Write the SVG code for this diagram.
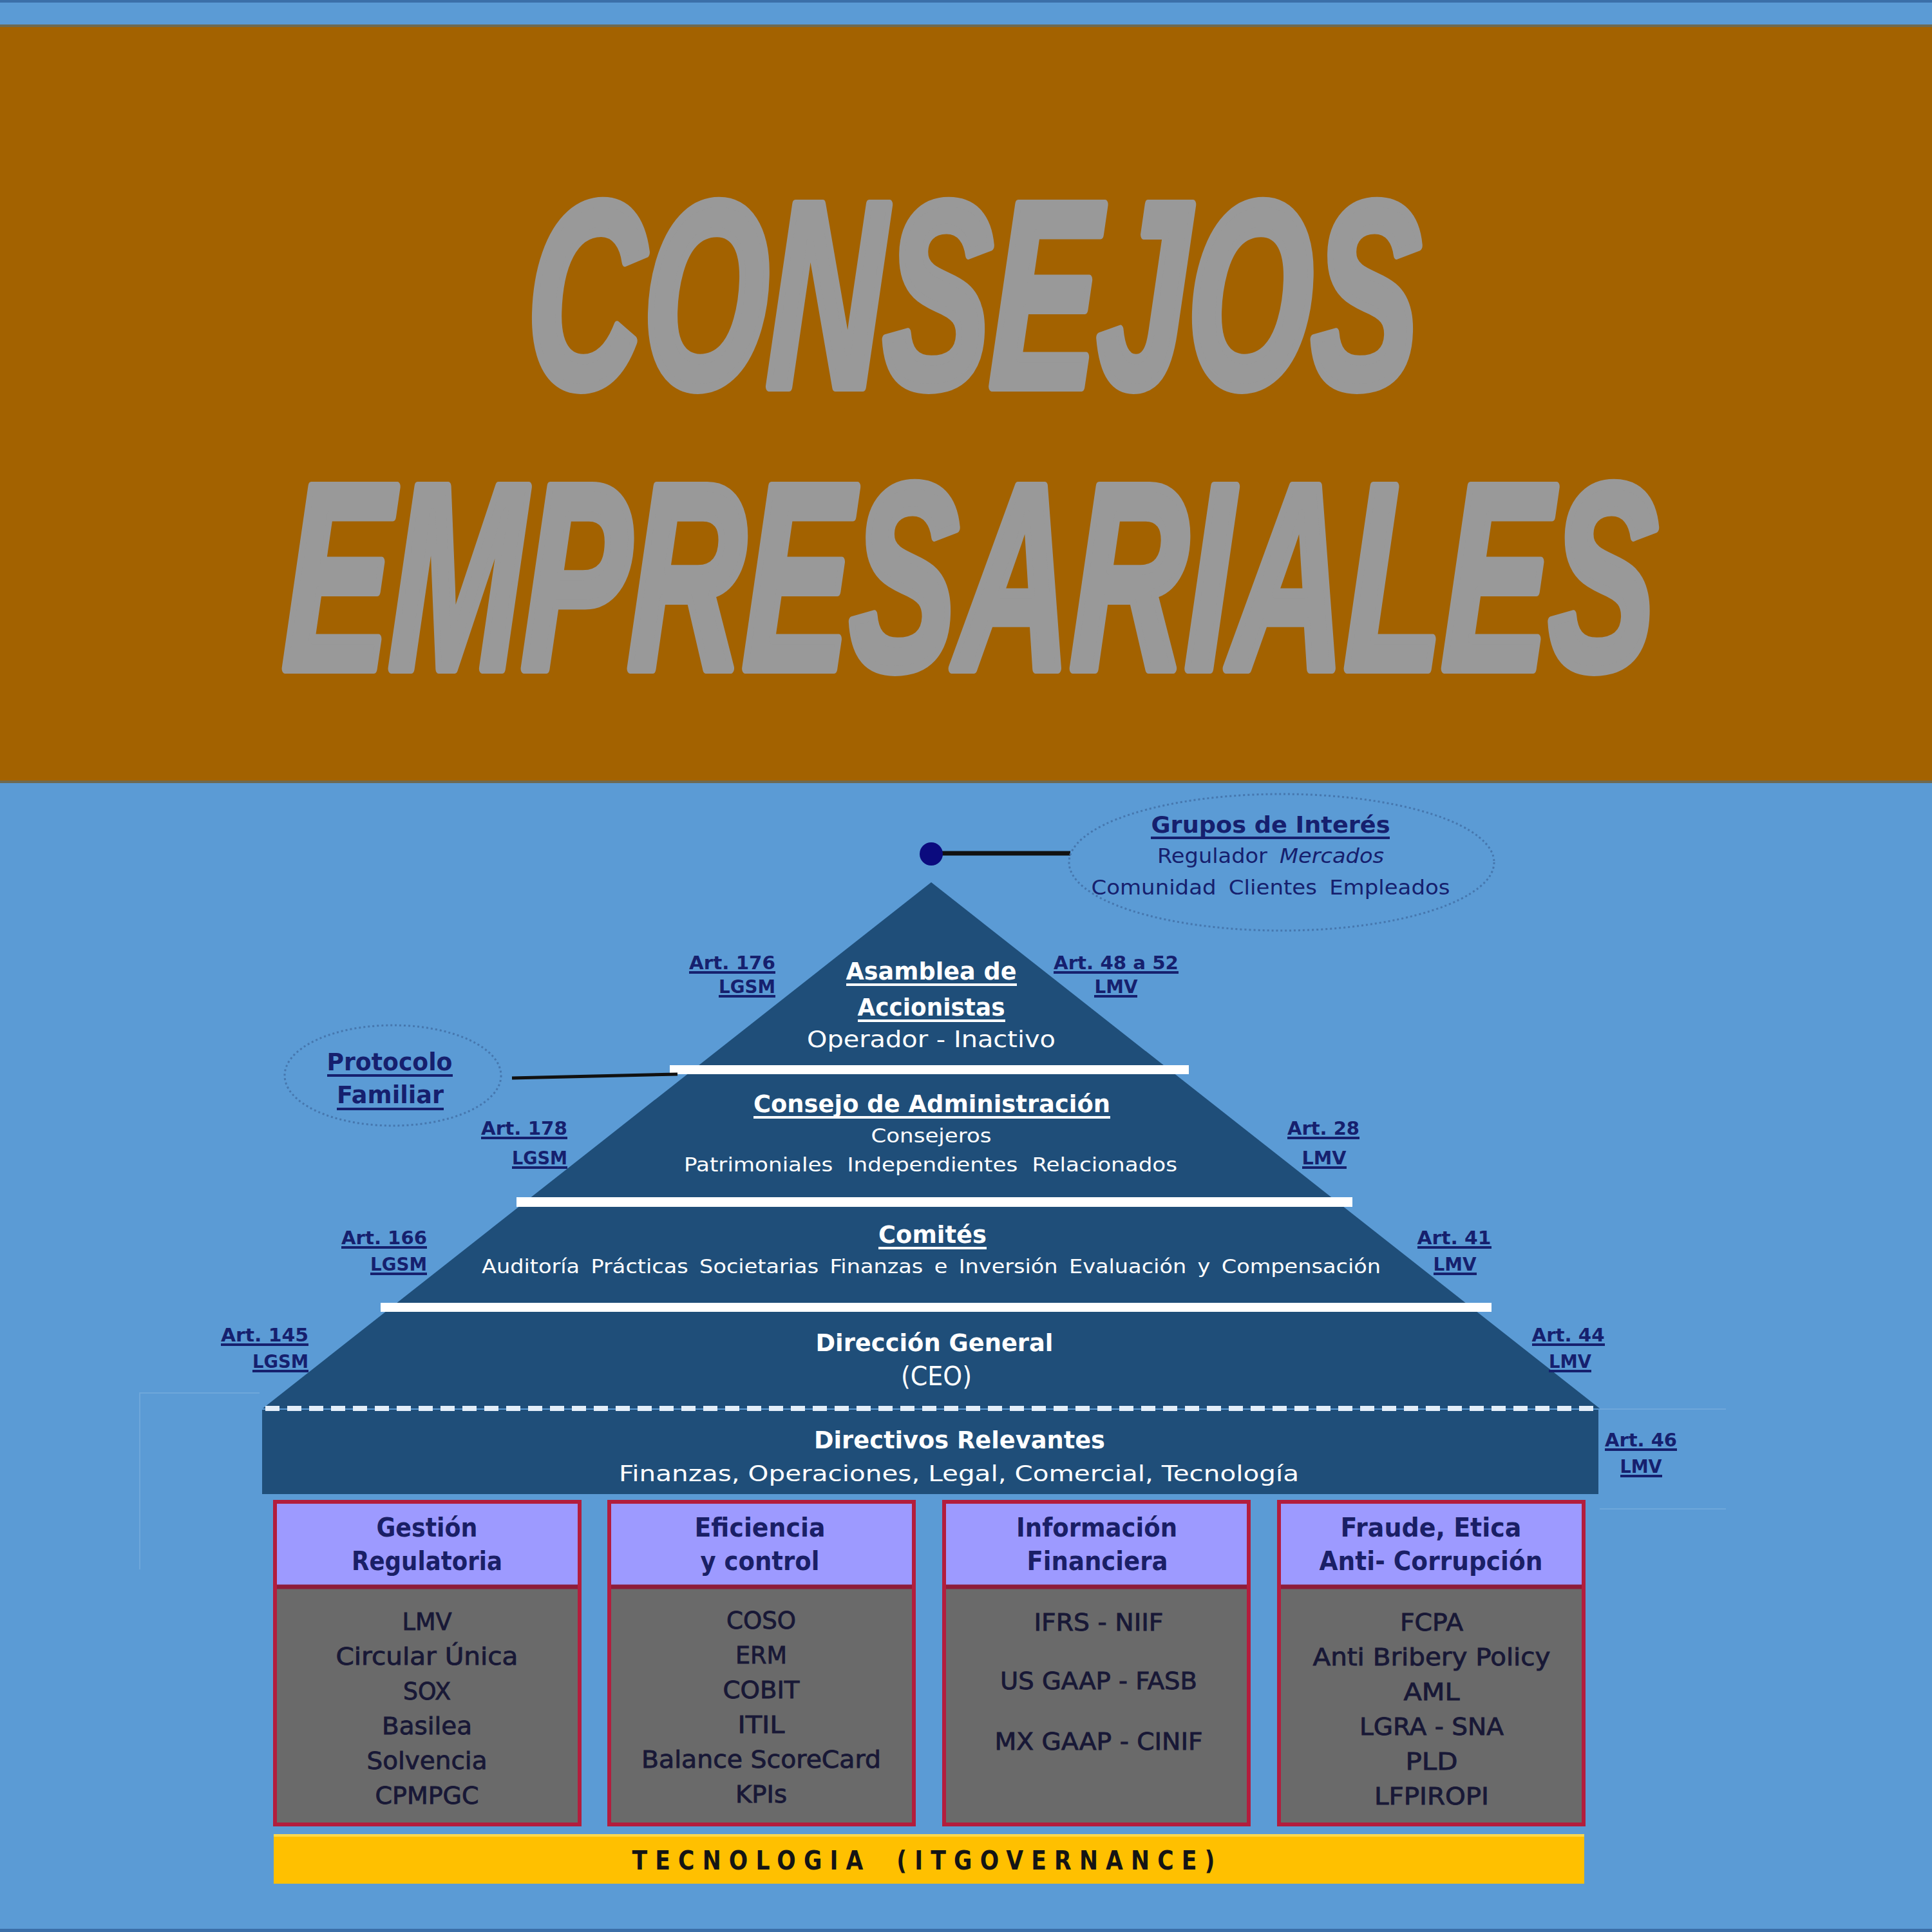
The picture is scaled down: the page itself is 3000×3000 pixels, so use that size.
<svg xmlns="http://www.w3.org/2000/svg" width="3000" height="3000" viewBox="0 0 3000 3000">
<defs>
<style>
.nv{fill:#16206e;font-family:"DejaVu Sans","Liberation Sans",sans-serif;font-weight:bold}
.art{fill:#16206e;font-family:"DejaVu Sans","Liberation Sans",sans-serif;font-weight:bold;font-size:28px}
.wb{fill:#ffffff;font-family:"DejaVu Sans","Liberation Sans",sans-serif;font-weight:bold;font-size:38px}
.wn{fill:#ffffff;font-family:"DejaVu Sans","Liberation Sans",sans-serif;font-weight:normal}
.hd{fill:#1a1f66;font-family:"DejaVu Sans","Liberation Sans",sans-serif;font-weight:bold;font-size:40px}
.bd{fill:#181836;stroke:#181836;stroke-width:0.9;font-family:"DejaVu Sans","Liberation Sans",sans-serif;font-weight:normal;font-size:38px}
.ul{stroke:#16206e;stroke-width:4}
.ulw{stroke:#ffffff;stroke-width:4}
.dotted{fill:none;stroke:#4677ae;stroke-width:3;stroke-dasharray:3 4}
.bar{fill:#ffffff}
.hdr{fill:#9d9aff}
.body{fill:#6a6a6a}
.frame{fill:none;stroke:#b31d3d;stroke-width:6}
.div{stroke:#8e1c3a;stroke-width:7}
</style>
</defs>

<!-- background -->
<rect x="0" y="0" width="3000" height="3000" fill="#5b9bd5"/>
<rect x="0" y="0" width="3000" height="4" fill="#3b6fa8"/>
<rect x="0" y="2995" width="3000" height="5" fill="#3b6fa8"/>
<rect x="0" y="40" width="3000" height="1175" fill="#a36200"/>
<rect x="0" y="38" width="3000" height="4" fill="#6e6a52"/>
<rect x="0" y="1212" width="3000" height="4" fill="#6e6a52"/>

<!-- faint artifacts -->
<g stroke="#ffffff" stroke-opacity="0.12" stroke-width="2" fill="none">
<polyline points="217,2437 217,2163 403,2163"/>
<line x1="2484" y1="2188" x2="2680" y2="2188"/>
<line x1="2484" y1="2343" x2="2680" y2="2343"/>
</g>

<!-- title -->
<g id="title" font-family="'Liberation Sans',Arial,sans-serif" font-weight="bold" font-style="italic" fill="#999999" stroke="#999999" stroke-width="10" stroke-linejoin="round">
<text transform="translate(1508,600) scale(1,1.577) skewX(-2.5)" x="0" y="0" text-anchor="middle" font-size="260" textLength="1385" lengthAdjust="spacingAndGlyphs">CONSEJOS</text>
<text transform="translate(1503,1038) scale(1,1.577) skewX(-2.5)" x="0" y="0" text-anchor="middle" font-size="260" textLength="2130" lengthAdjust="spacingAndGlyphs">EMPRESARIALES</text>
</g>

<!-- pyramid body -->
<g id="pyramid">
<polygon points="1446,1370 2484,2187 408,2187" fill="#1f4e79"/>
<rect x="407" y="2189" width="2075" height="131" fill="#1f4e79"/>
<rect class="bar" x="1040" y="1654" width="806" height="14"/>
<rect class="bar" x="802" y="1859" width="1298" height="15"/>
<rect class="bar" x="591" y="2023" width="1725" height="14"/>
<line x1="412" y1="2187" x2="2480" y2="2187" stroke="#e3eef9" stroke-width="8" stroke-dasharray="22 12"/>
</g>

<g id="asamblea">
<text class="wb" x="1446" y="1521" text-anchor="middle" textLength="265" lengthAdjust="spacingAndGlyphs">Asamblea de</text>
<line class="ulw" x1="1314" y1="1529" x2="1579" y2="1529"/>
<text class="wb" x="1446" y="1577" text-anchor="middle" textLength="229" lengthAdjust="spacingAndGlyphs">Accionistas</text>
<line class="ulw" x1="1332" y1="1585" x2="1561" y2="1585"/>
<text class="wn" x="1446" y="1626" font-size="36" text-anchor="middle" textLength="386" lengthAdjust="spacingAndGlyphs">Operador - Inactivo</text>
</g>

<g id="consejo">
<text class="wb" x="1447" y="1727" text-anchor="middle" textLength="554" lengthAdjust="spacingAndGlyphs">Consejo de Administración</text>
<line class="ulw" x1="1170" y1="1735" x2="1724" y2="1735"/>
<text class="wn" x="1446" y="1774" font-size="30" text-anchor="middle" textLength="187" lengthAdjust="spacingAndGlyphs">Consejeros</text>
<text class="wn" x="1445" y="1819" font-size="30" text-anchor="middle" textLength="766" lengthAdjust="spacingAndGlyphs" word-spacing="10">Patrimoniales Independientes Relacionados</text>
</g>

<g id="comites">
<text class="wb" x="1448" y="1930" text-anchor="middle" textLength="168" lengthAdjust="spacingAndGlyphs">Comités</text>
<line class="ulw" x1="1364" y1="1938" x2="1532" y2="1938"/>
<text class="wn" x="1446" y="1977" font-size="30" text-anchor="middle" textLength="1396" lengthAdjust="spacingAndGlyphs" word-spacing="6">Auditoría  Prácticas Societarias  Finanzas e Inversión  Evaluación y Compensación</text>
</g>

<g id="direccion">
<text class="wb" x="1451" y="2098" text-anchor="middle" textLength="369" lengthAdjust="spacingAndGlyphs">Dirección General</text>
<text class="wn" x="1454" y="2151" font-size="40" text-anchor="middle" textLength="110" lengthAdjust="spacingAndGlyphs">(CEO)</text>
</g>

<g id="directivos">
<text class="wb" x="1490" y="2249" text-anchor="middle" textLength="452" lengthAdjust="spacingAndGlyphs">Directivos Relevantes</text>
<text class="wn" x="1489" y="2300" font-size="34" text-anchor="middle" textLength="1056" lengthAdjust="spacingAndGlyphs">Finanzas, Operaciones, Legal, Comercial, Tecnología</text>
</g>

<!-- connectors -->
<g id="connectors">
<line x1="1462" y1="1325" x2="1662" y2="1325" stroke="#111111" stroke-width="7"/>
<circle cx="1446" cy="1326" r="18" fill="#0b0b7e"/>
<line x1="795" y1="1674" x2="1052" y2="1668" stroke="#111111" stroke-width="5"/>
</g>

<g id="grupos">
<ellipse class="dotted" cx="1990" cy="1339" rx="330" ry="106"/>
<text class="nv" x="1973" y="1293" font-size="36" text-anchor="middle" textLength="371" lengthAdjust="spacingAndGlyphs">Grupos de Interés</text>
<line class="ul" x1="1787" y1="1301" x2="2158" y2="1301"/>
<text x="1973" y="1340" font-size="32" fill="#16206e" font-family="'DejaVu Sans',sans-serif" text-anchor="middle" textLength="352" lengthAdjust="spacingAndGlyphs" word-spacing="8">Regulador <tspan font-style="italic">Mercados</tspan></text>
<text x="1973" y="1389" font-size="32" fill="#16206e" font-family="'DejaVu Sans',sans-serif" text-anchor="middle" textLength="557" lengthAdjust="spacingAndGlyphs" word-spacing="8">Comunidad Clientes Empleados</text>
</g>

<g id="protocolo">
<ellipse class="dotted" cx="610" cy="1670" rx="168" ry="78"/>
<text class="nv" x="605" y="1662" font-size="37" text-anchor="middle" textLength="195" lengthAdjust="spacingAndGlyphs">Protocolo</text>
<line class="ul" x1="508" y1="1670" x2="703" y2="1670"/>
<text class="nv" x="606" y="1713" font-size="37" text-anchor="middle" textLength="166" lengthAdjust="spacingAndGlyphs">Familiar</text>
<line class="ul" x1="523" y1="1722" x2="689" y2="1722"/>
</g>

<!-- article labels -->
<g id="art176">
<text class="art" x="1204" y="1505" text-anchor="end" textLength="134" lengthAdjust="spacingAndGlyphs">Art. 176</text>
<line class="ul" x1="1070" y1="1510" x2="1204" y2="1510" stroke-width="3"/>
<text class="art" x="1204" y="1542" text-anchor="end" textLength="88" lengthAdjust="spacingAndGlyphs">LGSM</text>
<line class="ul" x1="1116" y1="1547" x2="1204" y2="1547" stroke-width="3"/>
</g>
<g id="art4852">
<text class="art" x="1733" y="1505" text-anchor="middle" textLength="194" lengthAdjust="spacingAndGlyphs">Art. 48 a 52</text>
<line class="ul" x1="1636" y1="1510" x2="1830" y2="1510" stroke-width="3"/>
<text class="art" x="1733" y="1542" text-anchor="middle" textLength="67" lengthAdjust="spacingAndGlyphs">LMV</text>
<line class="ul" x1="1699" y1="1547" x2="1766" y2="1547" stroke-width="3"/>
</g>
<g id="art178">
<text class="art" x="881" y="1762" text-anchor="end" textLength="134" lengthAdjust="spacingAndGlyphs">Art. 178</text>
<line class="ul" x1="747" y1="1767" x2="881" y2="1767" stroke-width="3"/>
<text class="art" x="881" y="1808" text-anchor="end" textLength="86" lengthAdjust="spacingAndGlyphs">LGSM</text>
<line class="ul" x1="795" y1="1813" x2="881" y2="1813" stroke-width="3"/>
</g>
<g id="art28">
<text class="art" x="2055" y="1762" text-anchor="middle" textLength="112" lengthAdjust="spacingAndGlyphs">Art. 28</text>
<line class="ul" x1="1999" y1="1767" x2="2111" y2="1767" stroke-width="3"/>
<text class="art" x="2056" y="1808" text-anchor="middle" textLength="69" lengthAdjust="spacingAndGlyphs">LMV</text>
<line class="ul" x1="2022" y1="1813" x2="2091" y2="1813" stroke-width="3"/>
</g>
<g id="art166">
<text class="art" x="663" y="1932" text-anchor="end" textLength="133" lengthAdjust="spacingAndGlyphs">Art. 166</text>
<line class="ul" x1="530" y1="1937" x2="663" y2="1937" stroke-width="3"/>
<text class="art" x="663" y="1973" text-anchor="end" textLength="88" lengthAdjust="spacingAndGlyphs">LGSM</text>
<line class="ul" x1="575" y1="1978" x2="663" y2="1978" stroke-width="3"/>
</g>
<g id="art41">
<text class="art" x="2258" y="1932" text-anchor="middle" textLength="115" lengthAdjust="spacingAndGlyphs">Art. 41</text>
<line class="ul" x1="2201" y1="1937" x2="2316" y2="1937" stroke-width="3"/>
<text class="art" x="2259" y="1973" text-anchor="middle" textLength="67" lengthAdjust="spacingAndGlyphs">LMV</text>
<line class="ul" x1="2226" y1="1978" x2="2293" y2="1978" stroke-width="3"/>
</g>
<g id="art145">
<text class="art" x="479" y="2083" text-anchor="end" textLength="136" lengthAdjust="spacingAndGlyphs">Art. 145</text>
<line class="ul" x1="343" y1="2088" x2="479" y2="2088" stroke-width="3"/>
<text class="art" x="479" y="2124" text-anchor="end" textLength="87" lengthAdjust="spacingAndGlyphs">LGSM</text>
<line class="ul" x1="392" y1="2129" x2="479" y2="2129" stroke-width="3"/>
</g>
<g id="art44">
<text class="art" x="2435" y="2083" text-anchor="middle" textLength="113" lengthAdjust="spacingAndGlyphs">Art. 44</text>
<line class="ul" x1="2379" y1="2088" x2="2492" y2="2088" stroke-width="3"/>
<text class="art" x="2438" y="2124" text-anchor="middle" textLength="66" lengthAdjust="spacingAndGlyphs">LMV</text>
<line class="ul" x1="2405" y1="2129" x2="2471" y2="2129" stroke-width="3"/>
</g>
<g id="art46">
<text class="art" x="2548" y="2246" text-anchor="middle" textLength="112" lengthAdjust="spacingAndGlyphs">Art. 46</text>
<line class="ul" x1="2492" y1="2251" x2="2604" y2="2251" stroke-width="3"/>
<text class="art" x="2548" y="2287" text-anchor="middle" textLength="65" lengthAdjust="spacingAndGlyphs">LMV</text>
<line class="ul" x1="2516" y1="2292" x2="2581" y2="2292" stroke-width="3"/>
</g>

<!-- boxes -->
<g id="box-gestion">
<rect class="hdr" x="427" y="2332" width="473" height="132"/>
<rect class="body" x="427" y="2464" width="473" height="369"/>
<line class="div" x1="427" y1="2464" x2="900" y2="2464"/>
<rect class="frame" x="427" y="2332" width="473" height="501"/>
<text class="hd" x="663" y="2386" text-anchor="middle" textLength="157" lengthAdjust="spacingAndGlyphs">Gestión</text>
<text class="hd" x="663" y="2438" text-anchor="middle" textLength="234" lengthAdjust="spacingAndGlyphs">Regulatoria</text>
<text class="bd" x="663" y="2531" text-anchor="middle" textLength="77" lengthAdjust="spacingAndGlyphs">LMV</text>
<text class="bd" x="663" y="2585" text-anchor="middle" textLength="283" lengthAdjust="spacingAndGlyphs">Circular Única</text>
<text class="bd" x="663" y="2639" text-anchor="middle" textLength="74" lengthAdjust="spacingAndGlyphs">SOX</text>
<text class="bd" x="663" y="2693" text-anchor="middle" textLength="140" lengthAdjust="spacingAndGlyphs">Basilea</text>
<text class="bd" x="663" y="2747" text-anchor="middle" textLength="187" lengthAdjust="spacingAndGlyphs">Solvencia</text>
<text class="bd" x="663" y="2801" text-anchor="middle" textLength="161" lengthAdjust="spacingAndGlyphs">CPMPGC</text>
</g>
<g id="box-eficiencia">
<rect class="hdr" x="946" y="2332" width="473" height="132"/>
<rect class="body" x="946" y="2464" width="473" height="369"/>
<line class="div" x1="946" y1="2464" x2="1419" y2="2464"/>
<rect class="frame" x="946" y="2332" width="473" height="501"/>
<text class="hd" x="1180" y="2386" text-anchor="middle" textLength="203" lengthAdjust="spacingAndGlyphs">Eficiencia</text>
<text class="hd" x="1180" y="2438" text-anchor="middle" textLength="185" lengthAdjust="spacingAndGlyphs">y control</text>
<text class="bd" x="1182" y="2529" text-anchor="middle" textLength="108" lengthAdjust="spacingAndGlyphs">COSO</text>
<text class="bd" x="1182" y="2583" text-anchor="middle" textLength="80" lengthAdjust="spacingAndGlyphs">ERM</text>
<text class="bd" x="1182" y="2637" text-anchor="middle" textLength="119" lengthAdjust="spacingAndGlyphs">COBIT</text>
<text class="bd" x="1182" y="2691" text-anchor="middle" textLength="73" lengthAdjust="spacingAndGlyphs">ITIL</text>
<text class="bd" x="1182" y="2745" text-anchor="middle" textLength="372" lengthAdjust="spacingAndGlyphs">Balance ScoreCard</text>
<text class="bd" x="1182" y="2799" text-anchor="middle" textLength="80" lengthAdjust="spacingAndGlyphs">KPIs</text>
</g>
<g id="box-informacion">
<rect class="hdr" x="1466" y="2332" width="473" height="132"/>
<rect class="body" x="1466" y="2464" width="473" height="369"/>
<line class="div" x1="1466" y1="2464" x2="1939" y2="2464"/>
<rect class="frame" x="1466" y="2332" width="473" height="501"/>
<text class="hd" x="1703" y="2386" text-anchor="middle" textLength="250" lengthAdjust="spacingAndGlyphs">Información</text>
<text class="hd" x="1704" y="2438" text-anchor="middle" textLength="219" lengthAdjust="spacingAndGlyphs">Financiera</text>
<text class="bd" x="1706" y="2532" text-anchor="middle" textLength="201" lengthAdjust="spacingAndGlyphs">IFRS - NIIF</text>
<text class="bd" x="1706" y="2623" text-anchor="middle" textLength="306" lengthAdjust="spacingAndGlyphs">US GAAP - FASB</text>
<text class="bd" x="1706" y="2717" text-anchor="middle" textLength="323" lengthAdjust="spacingAndGlyphs">MX GAAP - CINIF</text>
</g>
<g id="box-fraude">
<rect class="hdr" x="1986" y="2332" width="473" height="132"/>
<rect class="body" x="1986" y="2464" width="473" height="369"/>
<line class="div" x1="1986" y1="2464" x2="2459" y2="2464"/>
<rect class="frame" x="1986" y="2332" width="473" height="501"/>
<text class="hd" x="2222" y="2386" text-anchor="middle" textLength="281" lengthAdjust="spacingAndGlyphs">Fraude, Etica</text>
<text class="hd" x="2222" y="2438" text-anchor="middle" textLength="347" lengthAdjust="spacingAndGlyphs">Anti- Corrupción</text>
<text class="bd" x="2223" y="2532" text-anchor="middle" textLength="98" lengthAdjust="spacingAndGlyphs">FCPA</text>
<text class="bd" x="2223" y="2586" text-anchor="middle" textLength="369" lengthAdjust="spacingAndGlyphs">Anti Bribery Policy</text>
<text class="bd" x="2223" y="2640" text-anchor="middle" textLength="87" lengthAdjust="spacingAndGlyphs">AML</text>
<text class="bd" x="2223" y="2694" text-anchor="middle" textLength="224" lengthAdjust="spacingAndGlyphs">LGRA - SNA</text>
<text class="bd" x="2223" y="2748" text-anchor="middle" textLength="81" lengthAdjust="spacingAndGlyphs">PLD</text>
<text class="bd" x="2223" y="2802" text-anchor="middle" textLength="178" lengthAdjust="spacingAndGlyphs">LFPIROPI</text>
</g>

<g id="tecnologia">
<rect x="425" y="2848" width="2035" height="77" fill="#ffc000"/>
<rect x="425" y="2848" width="2035" height="4" fill="#ffd84a"/>
<text x="1440" y="2903" font-family="'DejaVu Sans',sans-serif" font-weight="bold" font-size="40" fill="#141414" text-anchor="middle" letter-spacing="14" word-spacing="18" textLength="917" lengthAdjust="spacingAndGlyphs">TECNOLOGIA (ITGOVERNANCE)</text>
</g>
</svg>
